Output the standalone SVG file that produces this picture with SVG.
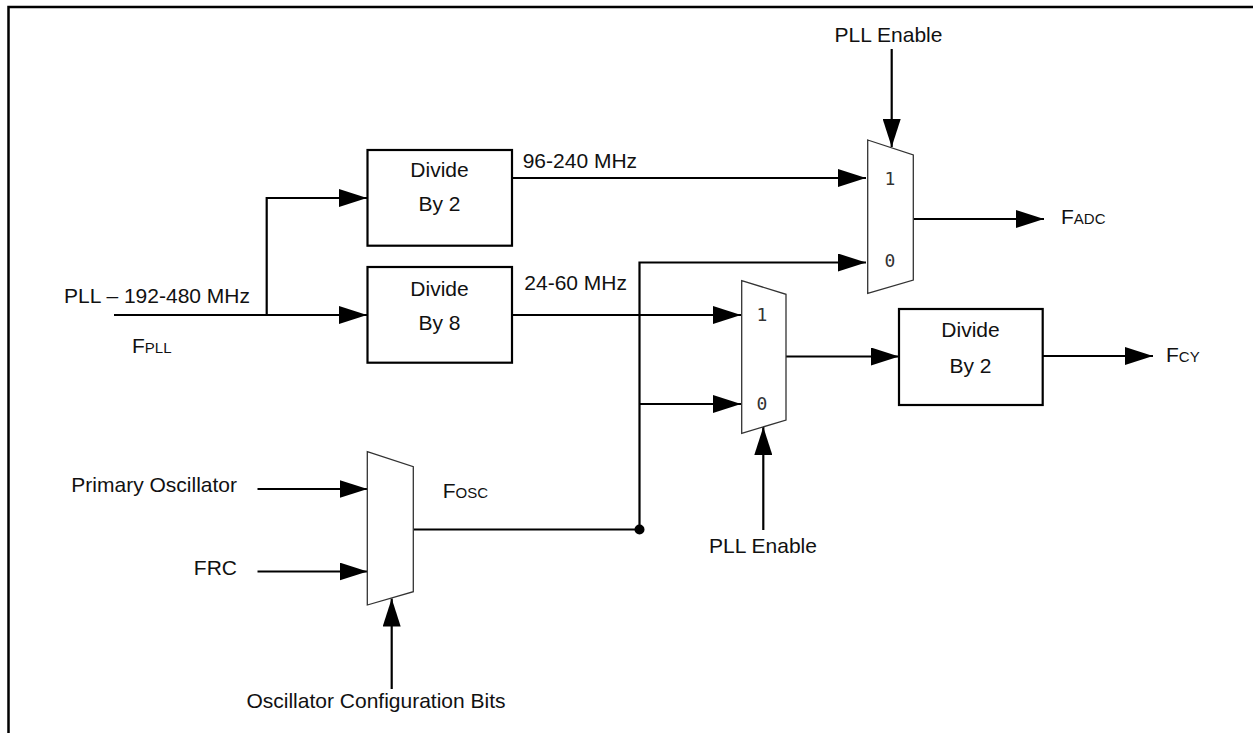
<svg xmlns="http://www.w3.org/2000/svg" width="1253" height="733" viewBox="0 0 1253 733">
<defs>
<marker id="ah" markerWidth="28" markerHeight="18" refX="28" refY="9" orient="auto" markerUnits="userSpaceOnUse">
<path d="M0,0 L28,9 L0,18 Z" fill="#000"/>
</marker>
<style>
text{font-family:"Liberation Sans",Arial,sans-serif;font-size:21px;fill:#111}
.sc{font-size:15px}
.mx{font-family:"DejaVu Sans Mono","Liberation Mono",monospace;font-size:18px;fill:#333}
.box{fill:#fff;stroke:#000;stroke-width:2.2}
.mux{fill:#fff;stroke:#333;stroke-width:1.3}
.w{fill:none;stroke:#000;stroke-width:2.2}
.c{text-anchor:middle}
</style>
</defs>
<rect width="1253" height="733" fill="#fff"/>
<path d="M8.5,736 V7 H1260" fill="none" stroke="#000" stroke-width="2.5"/>

<g id="connectors">
<path class="w" d="M114,315 H367" marker-end="url(#ah)"/>
<path class="w" d="M266.7,315 V198 H367" marker-end="url(#ah)"/>
<path class="w" d="M512,178 H866" marker-end="url(#ah)"/>
<path class="w" d="M512,315 H741" marker-end="url(#ah)"/>
<path class="w" d="M639.5,529.5 V262.5 H866" marker-end="url(#ah)"/>
<path class="w" d="M639.5,404 H741" marker-end="url(#ah)"/>
<path class="w" d="M891.7,49 V147" marker-end="url(#ah)"/>
<path class="w" d="M913.5,219 H1044" marker-end="url(#ah)"/>
<path class="w" d="M786,356.5 H899" marker-end="url(#ah)"/>
<path class="w" d="M1043,356 H1153" marker-end="url(#ah)"/>
<path class="w" d="M763.3,530 V427" marker-end="url(#ah)"/>
<path class="w" d="M257.5,489 H367.5" marker-end="url(#ah)"/>
<path class="w" d="M257.5,571.5 H367.5" marker-end="url(#ah)"/>
<path class="w" d="M413.5,529.5 H639.5"/>
<path class="w" d="M391.7,689 V598.5" marker-end="url(#ah)"/>
<circle cx="639.5" cy="529.5" r="5" fill="#000"/>
</g>

<g id="div2a">
<rect class="box" x="367.5" y="150" width="144.5" height="95.7"/>
<text class="c" x="439.5" y="177">Divide</text>
<text class="c" x="439.5" y="211">By 2</text>
</g>
<g id="div8">
<rect class="box" x="367.5" y="267" width="144.5" height="95.7"/>
<text class="c" x="439.5" y="296">Divide</text>
<text class="c" x="439.5" y="330">By 8</text>
</g>
<g id="div2b">
<rect class="box" x="899" y="309" width="143.7" height="96"/>
<text class="c" x="970.5" y="337">Divide</text>
<text class="c" x="970.5" y="373">By 2</text>
</g>

<g id="muxA">
<polygon class="mux" points="867.7,140 913.3,155 913.3,280 867.7,293.3"/>
<text class="mx c" x="890" y="185">1</text>
<text class="mx c" x="890" y="267">0</text>
</g>
<g id="muxB">
<polygon class="mux" points="741.7,280.7 786,294.3 786,420 741.7,433.3"/>
<text class="mx c" x="762" y="321">1</text>
<text class="mx c" x="762" y="410">0</text>
</g>
<g id="muxC">
<polygon class="mux" points="367.3,451.7 413.3,466.7 413.3,591.7 367.3,605"/>
</g>

<g id="labels">
<text x="64" y="303">PLL – 192-480 MHz</text>
<text x="132" y="353">F<tspan class="sc">PLL</tspan></text>
<text x="522.7" y="168">96-240 MHz</text>
<text x="524.3" y="290">24-60 MHz</text>
<text class="c" x="888.5" y="42">PLL Enable</text>
<text x="1061" y="224">F<tspan class="sc">ADC</tspan></text>
<text x="1166" y="362">F<tspan class="sc">CY</tspan></text>
<text x="442.7" y="498">F<tspan class="sc">OSC</tspan></text>
<text class="c" x="763" y="553">PLL Enable</text>
<text x="237" y="492" text-anchor="end">Primary Oscillator</text>
<text x="237" y="575" text-anchor="end">FRC</text>
<text class="c" x="376" y="708">Oscillator Configuration Bits</text>
</g>
</svg>
